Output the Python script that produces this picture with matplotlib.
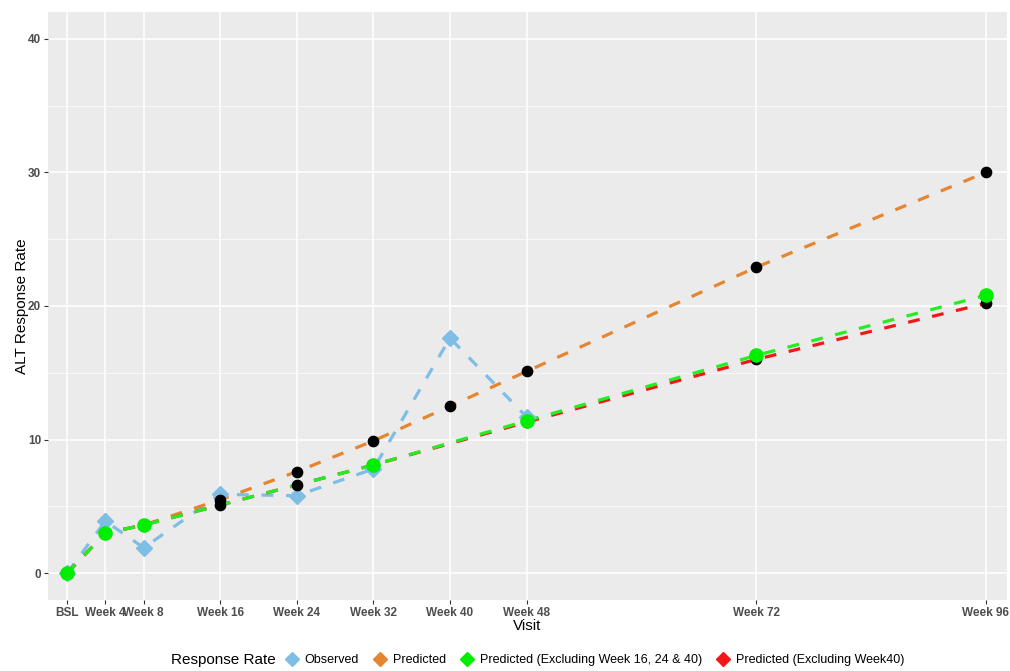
import numpy as np
import matplotlib
matplotlib.use('Agg')
import matplotlib.pyplot as plt
from matplotlib.lines import Line2D

plt.rcParams['font.family'] = ['Liberation Sans', 'DejaVu Sans']

# visits (weeks) and labels
weeks = [0, 4, 8, 16, 24, 32, 40, 48, 72, 96]
week_labels = ['BSL', 'Week 4', 'Week 8', 'Week 16', 'Week 24', 'Week 32',
               'Week 40', 'Week 48', 'Week 72', 'Week 96']

obs_weeks = [0, 4, 8, 16, 24, 32, 40, 48]
observed = [0, 3.9, 1.9, 5.9, 5.8, 7.8, 17.6, 11.7]

pred_weeks = [0, 4, 8, 16, 24, 32, 40, 48, 72, 96]
predicted = [0, 3.0, 3.6, 5.5, 7.6, 9.9, 12.5, 15.1, 22.9, 30.0]

excl3_weeks = [0, 4, 8, 32, 48, 72, 96]
pred_excl3 = [0, 3.0, 3.6, 8.1, 11.4, 16.3, 20.8]

excl40_weeks = [0, 4, 8, 16, 24, 32, 48, 72, 96]
pred_excl40 = [0, 3.0, 3.6, 5.1, 6.6, 8.1, 11.3, 16.0, 20.2]

c_obs = '#7FBEE4'
c_pred = '#E6852F'
c_ex3 = '#22EE22'
c_ex40 = '#F01818'

fig = plt.figure(figsize=(10.1, 6.71), dpi=100)
ax = fig.add_axes([0.0475, 0.106, 0.9495, 0.876])
ax.set_facecolor('#EBEBEB')

dash = (0, (3.7, 4))
lw = 2.3
ax.plot(obs_weeks, observed, color=c_obs, lw=lw, ls=dash, zorder=3)
ax.plot(obs_weeks, observed, color=c_obs, lw=0, marker='D', ms=8, zorder=4)
ax.plot(pred_weeks, predicted, color=c_pred, lw=lw, ls=dash, zorder=3)
ax.plot(excl40_weeks, pred_excl40, color=c_ex40, lw=lw, ls=dash, zorder=3)
ax.plot(excl3_weeks, pred_excl3, color=c_ex3, lw=lw, ls=dash, zorder=3)
ax.scatter(pred_weeks, predicted, color='black', s=55, zorder=5)
ax.scatter(excl40_weeks, pred_excl40, color='black', s=55, zorder=5)
ax.scatter(excl3_weeks, pred_excl3, color='#00EE00', s=90, zorder=6)

ax.set_xlim(-2, 98.2)
ax.set_ylim(-2, 42)
ax.set_xticks(weeks)
ax.set_xticklabels(week_labels, fontweight='bold', fontsize=8.5, color='#4D4D4D')
ax.set_yticks([0, 10, 20, 30, 40])
ax.set_yticklabels(['0', '10', '20', '30', '40'], fontweight='bold', fontsize=8.5, color='#4D4D4D')
ax.set_yticks([5, 15, 25, 35], minor=True)
ax.tick_params(axis='both', which='major', length=3, color='#333333', pad=2)
ax.tick_params(axis='y', which='minor', length=0)
ax.grid(True, which='major', color='white', lw=1.1)
ax.grid(True, which='minor', axis='y', color='white', lw=0.5)
ax.set_axisbelow(True)
for s in ax.spines.values():
    s.set_visible(False)

ax.set_xlabel('Visit', fontsize=11, labelpad=0)
ax.set_ylabel('ALT Response Rate', fontsize=11, labelpad=-1)

handles = [Line2D([], [], lw=0, marker='D', ms=7, color=c) for c in (c_obs, c_pred, '#00EE00', c_ex40)]
labels = ['Observed', 'Predicted', 'Predicted (Excluding Week 16, 24 & 40)',
          'Predicted (Excluding Week40)']
fig.text(0.169, 0.016, 'Response Rate', fontsize=11, va='center', ha='left')
fig.legend(handles, labels, ncol=4, loc='center left', bbox_to_anchor=(0.277, 0.016),
           frameon=False, fontsize=9, handlelength=1.0, handletextpad=0.5,
           columnspacing=1.2, borderpad=0)

fig.savefig('out.png', dpi=100)
